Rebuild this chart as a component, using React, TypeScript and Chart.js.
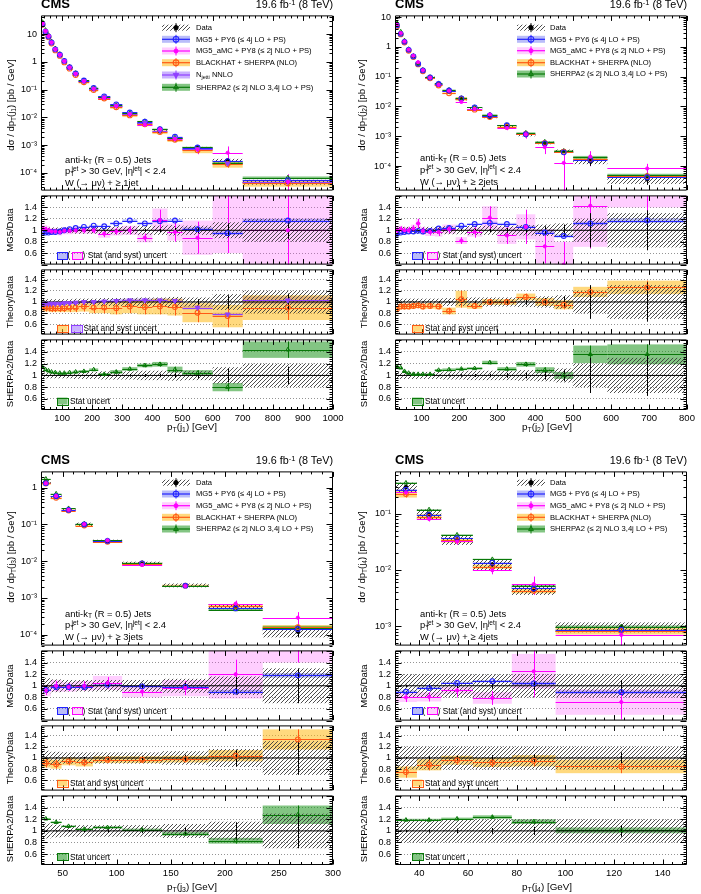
import React, { useEffect, useRef } from "react";
import { Chart, registerables } from "chart.js";
import { drawPoint } from "chart.js/helpers";
Chart.register(...registerables);

const FONT = "'Liberation Sans', Arial, Helvetica, sans-serif";

// ================= Panel 1 : leading jet pT =================
const edges1 = [30, 40, 50, 60, 70, 85, 100, 115, 135, 155, 190, 220, 260, 300, 350, 400, 450, 500, 600, 700, 1000];
const data1 = [23.6, 12.7, 8.5, 5.1, 2.9, 1.84, 1.07, 0.63, 0.37, 0.2, 0.107, 0.053, 0.026, 0.0128, 0.0062, 0.0032, 0.0017, 0.0008, 0.00028, 4.7e-5];
const dataUnc1 = [0.05, 0.05, 0.05, 0.05, 0.05, 0.05, 0.05, 0.05, 0.06, 0.06, 0.06, 0.07, 0.07, 0.07, 0.08, 0.08, 0.09, 0.08, 0.14, 0.2];
const dataStat1 = [0.002, 0.002, 0.002, 0.003, 0.003, 0.004, 0.005, 0.005, 0.006, 0.007, 0.009, 0.012, 0.015, 0.02, 0.025, 0.03, 0.04, 0.05, 0.12, 0.15];
const mg5Ratio1 = [0.96, 0.96, 0.96, 0.97, 0.97, 0.98, 1.0, 1.02, 1.04, 1.06, 1.08, 1.07, 1.12, 1.17, 1.12, 1.16, 1.17, 1.02, 0.95, 1.17];
const mg5Band1 = [0.01, 0.01, 0.01, 0.01, 0.01, 0.01, 0.01, 0.01, 0.012, 0.012, 0.015, 0.015, 0.02, 0.02, 0.02, 0.025, 0.025, 0.03, 0.03, 0.03];
const amcRatio1 = [1.02, 1.02, 1.0, 0.98, 0.98, 0.97, 0.99, 0.99, 1.0, 1.0, 1.0, 0.94, 0.98, 1.0, 0.87, 1.18, 0.97, 0.87, 1.9, 1.0];
const amcErr1 = [0.05, 0.04, 0.04, 0.04, 0.04, 0.04, 0.04, 0.04, 0.04, 0.05, 0.05, 0.06, 0.06, 0.07, 0.07, 0.18, 0.17, 0.28, 1.3, 0.9];
const amcBand1 = [0.08, 0.07, 0.07, 0.06, 0.06, 0.06, 0.06, 0.06, 0.06, 0.06, 0.06, 0.07, 0.07, 0.08, 0.08, 0.2, 0.15, 0.3, 1.3, 0.9];
const bhRatio1 = [0.92, 0.9, 0.9, 0.89, 0.89, 0.89, 0.89, 0.9, 0.9, 0.92, 0.9, 0.9, 0.89, 0.92, 0.91, 0.92, 0.91, 0.81, 0.75, 0.9];
const bhBand1 = [0.07, 0.07, 0.07, 0.07, 0.07, 0.07, 0.07, 0.08, 0.08, 0.09, 0.1, 0.1, 0.11, 0.12, 0.13, 0.14, 0.15, 0.17, 0.2, 0.22];
const njRatio1 = [0.96, 0.97, 0.97, 0.97, 0.97, 0.97, 0.98, 0.98, 0.99, 1.0, 1.0, 1.01, 1.02, 1.03, 1.03, 1.03, 1.02, 0.9, 0.78, 1.03];
const njBand1 = [0.02, 0.02, 0.02, 0.02, 0.02, 0.02, 0.02, 0.02, 0.02, 0.02, 0.025, 0.025, 0.03, 0.03, 0.03, 0.03, 0.035, 0.035, 0.03, 0.07];
const shRatio1 = [1.14, 1.1, 1.08, 1.06, 1.05, 1.04, 1.04, 1.05, 1.06, 1.07, 1.1, 1.02, 1.06, 1.11, 1.17, 1.19, 1.1, 1.04, 0.8, 1.44];
const shBand1 = [0.02, 0.015, 0.015, 0.015, 0.015, 0.015, 0.015, 0.015, 0.02, 0.02, 0.02, 0.02, 0.03, 0.03, 0.03, 0.04, 0.05, 0.05, 0.07, 0.14];
const xRange1 = [30, 1000];
const xTicks1 = [100, 200, 300, 400, 500, 600, 700, 800, 900, 1000];
const yRange1 = [2.3e-5, 47];
const yTicks1 = [1e-4, 1e-3, 1e-2, 1e-1, 1, 10];

// ================= Panel 2 : second jet pT =================
const edges2 = [30, 40, 50, 60, 72, 85, 97, 110, 135, 155, 190, 220, 260, 300, 350, 400, 450, 500, 590, 800];
const data2 = [5.6, 2.85, 1.52, 0.81, 0.49, 0.275, 0.166, 0.095, 0.055, 0.033, 0.0173, 0.0084, 0.0044, 0.0021, 0.0011, 0.0006, 0.00032, 0.000145, 3.6e-5];
const dataUnc2 = [0.07, 0.06, 0.06, 0.06, 0.06, 0.06, 0.06, 0.06, 0.06, 0.07, 0.07, 0.08, 0.08, 0.08, 0.09, 0.1, 0.12, 0.2, 0.3];
const dataStat2 = [0.005, 0.005, 0.005, 0.006, 0.007, 0.008, 0.01, 0.01, 0.012, 0.015, 0.02, 0.025, 0.03, 0.04, 0.05, 0.07, 0.1, 0.3, 0.35];
const mg5Ratio2 = [0.94, 0.96, 0.97, 0.98, 0.98, 0.99, 0.98, 0.99, 1.03, 1.04, 1.08, 1.11, 1.13, 1.11, 1.06, 0.96, 0.9, 1.12, 1.17];
const mg5Band2 = [0.01, 0.01, 0.01, 0.01, 0.01, 0.01, 0.01, 0.01, 0.012, 0.012, 0.015, 0.015, 0.02, 0.02, 0.02, 0.025, 0.025, 0.03, 0.04];
const amcRatio2 = [1.0, 1.02, 1.0, 1.0, 1.03, 1.12, 0.99, 0.97, 0.97, 1.02, 0.82, 0.97, 1.22, 0.91, 1.06, 0.72, 0.4, 1.43, 2.3];
const amcErr2 = [0.05, 0.05, 0.05, 0.06, 0.06, 0.08, 0.06, 0.06, 0.07, 0.07, 0.06, 0.1, 0.2, 0.15, 0.3, 0.3, 0.4, 0.75, 1.0];
const amcBand2 = [0.06, 0.06, 0.06, 0.06, 0.07, 0.08, 0.07, 0.07, 0.08, 0.08, 0.06, 0.08, 0.2, 0.15, 0.22, 0.3, 0.4, 0.72, 0.9];
const bhRatio2 = [0.87, 0.92, 0.92, 0.92, 0.93, 0.94, 0.92, 0.93, 0.92, 0.84, 1.05, 0.93, 1.0, 1.0, 1.09, 1.0, 0.95, 1.18, 1.26];
const bhBand2 = [0.05, 0.05, 0.05, 0.05, 0.05, 0.05, 0.05, 0.05, 0.05, 0.06, 0.15, 0.05, 0.05, 0.05, 0.06, 0.07, 0.08, 0.09, 0.12];
const shRatio2 = [1.15, 1.13, 1.07, 1.04, 1.02, 1.02, 1.02, 1.02, 1.09, 1.1, 1.11, 1.12, 1.22, 1.11, 1.19, 1.09, 1.0, 1.36, 1.36];
const shBand2 = [0.02, 0.015, 0.015, 0.015, 0.015, 0.015, 0.015, 0.015, 0.02, 0.02, 0.02, 0.02, 0.03, 0.03, 0.04, 0.05, 0.06, 0.15, 0.17];
const xRange2 = [30, 800];
const xTicks2 = [100, 200, 300, 400, 500, 600, 700, 800];
const yRange2 = [1.5e-5, 11.4];
const yTicks2 = [1e-4, 1e-3, 1e-2, 1e-1, 1, 10];

// ================= Panel 3 : third jet pT =================
const edges3 = [30, 39, 49, 62, 78, 105, 142, 185, 235, 300];
const data3 = [1.44, 0.6, 0.255, 0.102, 0.035, 0.0088, 0.0022, 0.00058, 0.00012];
const dataUnc3 = [0.13, 0.11, 0.1, 0.1, 0.1, 0.1, 0.12, 0.16, 0.3];
const dataStat3 = [0.01, 0.01, 0.015, 0.02, 0.03, 0.04, 0.06, 0.15, 0.3];
const mg5Ratio3 = [0.93, 0.98, 0.98, 0.98, 1.02, 0.99, 0.98, 0.9, 1.18];
const mg5Band3 = [0.02, 0.02, 0.02, 0.02, 0.02, 0.02, 0.03, 0.03, 0.04];
const amcRatio3 = [0.92, 1.0, 0.98, 1.0, 1.05, 0.9, 0.96, 1.2, 2.4];
const amcErr3 = [0.08, 0.08, 0.07, 0.08, 0.1, 0.08, 0.12, 0.25, 1.0];
const amcBand3 = [0.1, 0.1, 0.08, 0.08, 0.12, 0.1, 0.14, 0.42, 1.0];
const bhRatio3 = [0.91, 0.89, 0.94, 0.92, 0.97, 0.97, 0.98, 1.04, 1.33];
const bhBand3 = [0.08, 0.08, 0.07, 0.07, 0.06, 0.06, 0.06, 0.1, 0.18];
const shRatio3 = [1.21, 1.15, 1.08, 1.03, 1.06, 1.02, 0.95, 0.83, 1.28];
const shBand3 = [0.015, 0.015, 0.015, 0.015, 0.02, 0.02, 0.03, 0.05, 0.16];
const xRange3 = [30, 300];
const xTicks3 = [50, 100, 150, 200, 250, 300];
const yRange3 = [5e-5, 2.8];
const yTicks3 = [1e-4, 1e-3, 1e-2, 1e-1, 1];

// ================= Panel 4 : fourth jet pT =================
const edges4 = [30, 39, 49, 62, 78, 96, 150];
const data4 = [0.3, 0.1, 0.035, 0.0125, 0.0045, 0.00097];
const dataUnc4 = [0.2, 0.2, 0.2, 0.2, 0.2, 0.2];
const dataStat4 = [0.02, 0.03, 0.04, 0.05, 0.07, 0.1];
const mg5Ratio4 = [0.9, 0.96, 1.05, 1.08, 1.04, 0.89];
const mg5Band4 = [0.02, 0.02, 0.02, 0.02, 0.03, 0.03];
const amcRatio4 = [0.8, 0.81, 0.92, 0.79, 1.25, 0.72];
const amcErr4 = [0.08, 0.08, 0.12, 0.12, 0.45, 0.3];
const amcBand4 = [0.08, 0.08, 0.06, 0.1, 0.3, 0.22];
const bhRatio4 = [0.75, 0.88, 0.96, 0.92, 0.95, 0.85];
const bhBand4 = [0.1, 0.1, 0.08, 0.08, 0.1, 0.12];
const shRatio4 = [1.19, 1.19, 1.21, 1.24, 1.16, 1.01];
const shBand4 = [0.02, 0.02, 0.02, 0.03, 0.04, 0.05];
const xRange4 = [30, 150];
const xTicks4 = [40, 60, 80, 100, 120, 140];
const yRange4 = [4.5e-4, 0.57];
const yTicks4 = [1e-3, 1e-2, 1e-1];

// ratio panels
const ratioTicks = [0.6, 0.8, 1, 1.2, 1.4];
const ratioRanges = [[0.4, 1.61], [0.42, 1.58], [0.41, 1.615]];

const COLORS: any = {
  data: { line: "#000000", band: "rgba(0,0,0,0)" },
  mg5: { line: "#2323ff", band: "rgba(70,80,240,0.38)" },
  amc: { line: "#ff00ff", band: "rgba(255,60,255,0.25)" },
  bh: { line: "#ff5a14", band: "rgba(255,185,20,0.55)" },
  nj: { line: "#9040ff", band: "rgba(150,100,255,0.5)" },
  sh: { line: "#087808", band: "rgba(30,150,30,0.55)" },
};
const MARKERS: any = {
  data: { pointStyle: "circle", radius: 1.8, fill: "#000", stroke: "#000", bw: 1, rot: 0 },
  mg5: { pointStyle: "circle", radius: 2.4, fill: "rgba(255,255,255,0)", stroke: COLORS.mg5.line, bw: 1.1, rot: 0 },
  amc: { pointStyle: "circle", radius: 1.6, fill: COLORS.amc.line, stroke: COLORS.amc.line, bw: 1, rot: 0 },
  bh: { pointStyle: "circle", radius: 2.4, fill: "rgba(255,255,255,0)", stroke: COLORS.bh.line, bw: 1.1, rot: 0 },
  nj: { pointStyle: "triangle", radius: 2.8, fill: COLORS.nj.line, stroke: COLORS.nj.line, bw: 1, rot: 180 },
  sh: { pointStyle: "triangle", radius: 2.4, fill: "rgba(255,255,255,0)", stroke: COLORS.sh.line, bw: 1, rot: 0 },
};

const PANELS: any[] = [
  { jet: "1", edges: edges1, data: data1, unc: dataUnc1, stat: dataStat1, mg5R: mg5Ratio1, mg5B: mg5Band1, amcR: amcRatio1, amcE: amcErr1, amcB: amcBand1, bhR: bhRatio1, bhB: bhBand1, njR: njRatio1, njB: njBand1, shR: shRatio1, shB: shBand1, xRange: xRange1, xTicks: xTicks1, xMajor: 100, xMinor: 20, yRange: yRange1, yTicks: yTicks1, mult: "≥ 1jet" },
  { jet: "2", edges: edges2, data: data2, unc: dataUnc2, stat: dataStat2, mg5R: mg5Ratio2, mg5B: mg5Band2, amcR: amcRatio2, amcE: amcErr2, amcB: amcBand2, bhR: bhRatio2, bhB: bhBand2, njR: null, njB: null, shR: shRatio2, shB: shBand2, xRange: xRange2, xTicks: xTicks2, xMajor: 100, xMinor: 20, yRange: yRange2, yTicks: yTicks2, mult: "≥ 2jets" },
  { jet: "3", edges: edges3, data: data3, unc: dataUnc3, stat: dataStat3, mg5R: mg5Ratio3, mg5B: mg5Band3, amcR: amcRatio3, amcE: amcErr3, amcB: amcBand3, bhR: bhRatio3, bhB: bhBand3, njR: null, njB: null, shR: shRatio3, shB: shBand3, xRange: xRange3, xTicks: xTicks3, xMajor: 50, xMinor: 10, yRange: yRange3, yTicks: yTicks3, mult: "≥ 3jets" },
  { jet: "4", edges: edges4, data: data4, unc: dataUnc4, stat: dataStat4, mg5R: mg5Ratio4, mg5B: mg5Band4, amcR: amcRatio4, amcE: amcErr4, amcB: amcBand4, bhR: bhRatio4, bhB: bhBand4, njR: null, njB: null, shR: shRatio4, shB: shBand4, xRange: xRange4, xTicks: xTicks4, xMajor: 20, xMinor: 4, yRange: yRange4, yTicks: yTicks4, mult: "≥ 4jets" },
];

// layout of the four pads (page pixels)
const GEO: any[] = [
  { l: 41, r: 333, rows: [13, 193, 267, 337, 410], legX: [162, 190], legTextX: 196, legRows: [27.7, 39.3, 51, 62.7, 75, 87.3], annX: 65, annBase: [162.5, 174, 185.5], rLegX: 57, rLegY: [255.5, 328.3, 401], yTitleX: 11, rTitleX: 10, yTitleY: 105, xTitleX: 192, xTitleBase: 430 },
  { l: 395, r: 687, rows: [13, 193, 267, 337, 410], legX: [517, 545], legTextX: 550, legRows: [27.7, 39.3, 50.7, 62.7, 74], annX: 420, annBase: [161, 172.5, 185], rLegX: 412, rLegY: [255.5, 328.3, 401], yTitleX: 362, rTitleX: 364, yTitleY: 105, xTitleX: 547, xTitleBase: 430 },
  { l: 41, r: 333, rows: [469, 648, 723, 793, 865], legX: [162, 190], legTextX: 196, legRows: [482.7, 494, 505.7, 517.3, 529], annX: 65, annBase: [616.5, 628, 640], rLegX: 57, rLegY: [710.7, 783, 856.7], yTitleX: 11, rTitleX: 10, yTitleY: 557, xTitleX: 192, xTitleBase: 890 },
  { l: 395, r: 687, rows: [469, 648, 723, 793, 865], legX: [517, 545], legTextX: 550, legRows: [482.7, 494, 505.7, 517.3, 529], annX: 420, annBase: [616.5, 628, 640], rLegX: 412, rLegY: [710.7, 783, 856.7], yTitleX: 362, rTitleX: 364, yTitleY: 557, xTitleX: 547, xTitleBase: 890 },
];

const ML = 38, MR = 14, MT = 7, MBX = 20, MBN = 7;

function centersOf(edges: number[]) {
  return edges.slice(0, -1).map((e, i) => (e + edges[i + 1]) / 2);
}

function mainModel(edges, data, r, band, err, key) {
  return {
    edges, color: COLORS[key].line, bandColor: COLORS[key].band, line: true,
    vals: data.map((d, i) => d * r[i]),
    lo: band ? data.map((d, i) => d * (r[i] - band[i])) : null,
    hi: band ? data.map((d, i) => d * (r[i] + band[i])) : null,
    elo: err ? data.map((d, i) => d * (r[i] - err[i])) : null,
    ehi: err ? data.map((d, i) => d * (r[i] + err[i])) : null,
  };
}
function ratioModel(edges, r, band, err, key) {
  return {
    edges, color: COLORS[key].line, bandColor: COLORS[key].band, line: true, vals: r,
    lo: band ? r.map((v, i) => v - band[i]) : null,
    hi: band ? r.map((v, i) => v + band[i]) : null,
    elo: err ? r.map((v, i) => v - err[i]) : null,
    ehi: err ? r.map((v, i) => v + err[i]) : null,
  };
}
function mainData(edges, data, U, S) {
  return {
    edges, color: "#000", hatch: true, line: false, vals: data,
    lo: data.map((d, i) => d * (1 - U[i])), hi: data.map((d, i) => d * (1 + U[i])),
    elo: data.map((d, i) => d * (1 - S[i])), ehi: data.map((d, i) => d * (1 + S[i])),
  };
}
function ratioData(edges, U, S) {
  return {
    edges, color: "#000", hatch: true, line: false, vals: U.map(() => 1),
    lo: U.map((u) => 1 - u), hi: U.map((u) => 1 + u),
    elo: S.map((s) => 1 - s), ehi: S.map((s) => 1 + s),
  };
}
function scatterSet(h, mk, showPts = true) {
  return {
    type: "scatter",
    data: centersOf(h.edges).map((x, i) => ({ x, y: h.vals[i] })),
    pointStyle: mk.pointStyle, pointRadius: showPts ? mk.radius : 0, pointRotation: mk.rot,
    pointBackgroundColor: mk.fill, pointBorderColor: mk.stroke, pointBorderWidth: mk.bw,
    pointHoverRadius: 0, showLine: false, hep: h,
  };
}

const hatchCache = new WeakMap();
function getHatch(ctx) {
  let p = hatchCache.get(ctx);
  if (!p) {
    const c = document.createElement("canvas");
    c.width = 4; c.height = 4;
    const g = c.getContext("2d");
    g.strokeStyle = "#3a3a3a"; g.lineWidth = 0.9;
    g.beginPath();
    g.moveTo(0, 4); g.lineTo(4, 0);
    g.moveTo(-1, 1); g.lineTo(1, -1);
    g.moveTo(3, 5); g.lineTo(5, 3);
    g.stroke();
    p = ctx.createPattern(c, "repeat");
    hatchCache.set(ctx, p);
  }
  return p;
}

function drawBins(chart) {
  const { ctx, chartArea: a } = chart;
  const xs = chart.scales.x, ys = chart.scales.y;
  const isLog = ys.type === "logarithmic";
  const py = (v) => (isLog && v <= 0 ? a.bottom + 50 : ys.getPixelForValue(v));
  const px = (v) => xs.getPixelForValue(v);
  const hs = chart.data.datasets.map((d) => d.hep).filter(Boolean);
  ctx.save();
  ctx.beginPath();
  ctx.rect(a.left, a.top, a.right - a.left, a.bottom - a.top);
  ctx.clip();
  const boxes = (h, fill) => {
    ctx.fillStyle = fill;
    h.vals.forEach((_, i) => {
      const x0 = px(h.edges[i]), x1 = px(h.edges[i + 1]);
      const y0 = py(h.hi[i]), y1 = py(h.lo[i]);
      ctx.fillRect(x0, y0, x1 - x0, y1 - y0);
    });
  };
  hs.forEach((h) => { if (h.lo && !h.hatch) boxes(h, h.bandColor); });
  hs.forEach((h) => { if (h.hatch) boxes(h, getHatch(ctx)); });
  hs.forEach((h) => {
    ctx.strokeStyle = h.color;
    ctx.lineWidth = 1;
    ctx.beginPath();
    h.vals.forEach((v, i) => {
      const x0 = px(h.edges[i]), x1 = px(h.edges[i + 1]);
      if (h.line && !(isLog && v <= 0)) {
        const y = Math.round(py(v)) + 0.5;
        ctx.moveTo(x0, y); ctx.lineTo(x1, y);
      }
      if (h.elo) {
        const xm = Math.round(px((h.edges[i] + h.edges[i + 1]) / 2)) + 0.5;
        ctx.moveTo(xm, py(h.elo[i])); ctx.lineTo(xm, py(h.ehi[i]));
      }
    });
    ctx.stroke();
  });
  ctx.restore();
}

function drawFrame(chart, spec) {
  const { ctx, chartArea: a } = chart;
  const xs = chart.scales.x, ys = chart.scales.y;
  const L = a.left + 0.5, R = a.right - 0.5, T = a.top + 0.5, B = a.bottom - 0.5;
  ctx.save();
  ctx.strokeStyle = "#000";
  ctx.lineWidth = 1;
  ctx.beginPath();
  ctx.rect(L, T, R - L, B - T);
  const m = spec.xMinor, M = spec.xMajor;
  for (let k = Math.ceil(xs.min / m - 1e-9); k * m <= xs.max + 1e-9; k++) {
    const v = k * m;
    const major = Math.abs(v / M - Math.round(v / M)) < 1e-6;
    const len = major ? 5 : 2.5;
    const p = Math.round(xs.getPixelForValue(v)) + 0.5;
    ctx.moveTo(p, B); ctx.lineTo(p, B - len);
    ctx.moveTo(p, T); ctx.lineTo(p, T + len);
  }
  const tickY = (v, len) => {
    const p = Math.round(ys.getPixelForValue(v)) + 0.5;
    ctx.moveTo(L, p); ctx.lineTo(L + len, p);
    ctx.moveTo(R, p); ctx.lineTo(R - len, p);
  };
  if (spec.log) {
    const e0 = Math.floor(Math.log10(ys.min)), e1 = Math.ceil(Math.log10(ys.max));
    for (let e = e0; e <= e1; e++) {
      for (let k = 1; k <= 9; k++) {
        const v = k * Math.pow(10, e);
        if (v >= ys.min && v <= ys.max) tickY(v, k === 1 ? 6 : 3);
      }
    }
  } else {
    for (let k = Math.ceil(ys.min / 0.04 - 1e-9); k * 0.04 <= ys.max + 1e-9; k++) {
      const v = k * 0.04;
      const major = Math.abs(v / 0.2 - Math.round(v / 0.2)) < 1e-6;
      tickY(v, major ? 6 : 3);
    }
  }
  ctx.stroke();
  ctx.restore();
}

function drawMarker(ctx, mk, x, y, grow = 0) {
  ctx.save();
  ctx.fillStyle = mk.fill;
  ctx.strokeStyle = mk.stroke;
  ctx.lineWidth = mk.bw;
  drawPoint(ctx, { pointStyle: mk.pointStyle, radius: mk.radius + grow, rotation: mk.rot, borderWidth: mk.bw }, x, y);
  ctx.restore();
}

function drawLegends(chart, spec) {
  const { ctx } = chart;
  const ox = spec.l - ML, oy = spec.t - MT;
  ctx.save();
  (spec.legend || []).forEach((it) => {
    const x0 = it.x0 - ox, x1 = it.x1 - ox, y = it.y - oy, xc = (x0 + x1) / 2;
    const col = COLORS[it.key];
    if (it.key === "data") {
      ctx.fillStyle = getHatch(ctx);
      ctx.fillRect(x0, y - 3, x1 - x0, 6);
    } else {
      ctx.fillStyle = col.band;
      ctx.fillRect(x0, y - 3.5, x1 - x0, 7);
      ctx.strokeStyle = col.line;
      ctx.lineWidth = 1.2;
      ctx.beginPath(); ctx.moveTo(x0, y); ctx.lineTo(x1, y); ctx.stroke();
    }
    ctx.strokeStyle = col.line;
    ctx.lineWidth = 1;
    ctx.beginPath(); ctx.moveTo(xc, y - 4.5); ctx.lineTo(xc, y + 4.5); ctx.stroke();
    drawMarker(ctx, MARKERS[it.key], xc, y, 0.4);
  });
  (spec.boxes || []).forEach((b) => {
    const col = COLORS[b.key];
    const x0 = b.x0 - ox, x1 = b.x1 - ox, y = b.y - oy;
    ctx.fillStyle = col.band;
    ctx.fillRect(x0, y - 3.5, x1 - x0, 7);
    ctx.strokeStyle = col.line;
    ctx.lineWidth = 1;
    ctx.strokeRect(Math.round(x0) + 0.5, Math.round(y - 3.5) + 0.5, Math.round(x1 - x0), 7);
  });
  ctx.restore();
}

function makePlugin(spec) {
  return {
    id: "hepDraw",
    beforeDatasetsDraw(chart) { drawBins(chart); },
    afterDraw(chart) { drawFrame(chart, spec); drawLegends(chart, spec); },
  };
}

const SUPS: any = { "-": "⁻", "0": "⁰", "1": "¹", "2": "²", "3": "³", "4": "⁴", "5": "⁵", "6": "⁶", "7": "⁷", "8": "⁸", "9": "⁹" };
function logLabel(v) {
  const e = Math.round(Math.log10(v));
  if (e === 0) return "1";
  if (e === 1) return "10";
  return "10" + String(e).split("").map((c) => SUPS[c]).join("");
}
function linLabel(v) {
  return String(Math.round(v * 10) / 10);
}

function buildConfig(spec) {
  const yScale: any = {
    type: spec.log ? "logarithmic" : "linear",
    min: spec.yRange[0], max: spec.yRange[1],
    afterFit: (s) => { s.width = ML; },
    afterBuildTicks: (s) => { s.ticks = spec.yTicks.map((v) => ({ value: v })); },
    grid: spec.log ? { display: false, drawTicks: false } : { display: true, drawTicks: false, color: "#666", lineWidth: 0.7 },
    border: { display: false, dash: [1, 2] },
    ticks: { font: { family: FONT, size: 9 }, color: "#000", padding: 4, autoSkip: false, callback: spec.log ? logLabel : linLabel },
  };
  const xScale: any = {
    type: "linear", min: spec.xRange[0], max: spec.xRange[1], display: spec.showX,
    afterBuildTicks: (s) => { s.ticks = spec.xTicks.map((v) => ({ value: v })); },
    grid: { display: false, drawTicks: false },
    border: { display: false },
    ticks: { font: { family: FONT, size: 9.5 }, color: "#000", padding: 3, autoSkip: false, maxRotation: 0, minRotation: 0, callback: (v) => String(v) },
  };
  if (spec.showX) xScale.afterFit = (s) => { s.height = MBX; };
  return {
    type: "scatter",
    data: { datasets: spec.datasets },
    options: {
      responsive: false, maintainAspectRatio: false, animation: false, devicePixelRatio: 1, events: [],
      layout: { autoPadding: false, padding: { left: 0, right: MR, top: MT, bottom: spec.showX ? 0 : MBN } },
      plugins: { legend: { display: false }, tooltip: { enabled: false }, title: { display: false } },
      scales: { x: xScale, y: yScale },
    },
    plugins: [makePlugin(spec)],
  };
}

function buildQuadrant(p, g) {
  const [t0, t1, t2, t3, t4] = g.rows;
  const base = { l: g.l, r: g.r, xRange: p.xRange, xTicks: p.xTicks, xMajor: p.xMajor, xMinor: p.xMinor };
  const unity = () => ({ type: "line", data: [{ x: p.xRange[0], y: 1 }, { x: p.xRange[1], y: 1 }], borderColor: "#000", borderWidth: 1, pointRadius: 0 });
  const hasNj = !!p.njR;
  const mainSets = [
    scatterSet(mainModel(p.edges, p.data, p.amcR, null, p.amcE, "amc"), MARKERS.amc),
    ...(hasNj ? [scatterSet(mainModel(p.edges, p.data, p.njR, p.njB, p.njB, "nj"), MARKERS.nj)] : []),
    scatterSet(mainModel(p.edges, p.data, p.mg5R, p.mg5B, null, "mg5"), MARKERS.mg5),
    scatterSet(mainModel(p.edges, p.data, p.bhR, p.bhB, p.bhB, "bh"), MARKERS.bh),
    scatterSet(mainModel(p.edges, p.data, p.shR, p.shB, p.shB, "sh"), MARKERS.sh),
    scatterSet(mainData(p.edges, p.data, p.unc, p.stat), MARKERS.data),
  ];
  const legKeys = hasNj ? ["data", "mg5", "amc", "bh", "nj", "sh"] : ["data", "mg5", "amc", "bh", "sh"];
  const legend = legKeys.map((key, i) => ({ key, x0: g.legX[0], x1: g.legX[1], y: g.legRows[i] }));
  const r1Sets = [
    scatterSet(ratioModel(p.edges, p.amcR, p.amcB, p.amcE, "amc"), MARKERS.amc),
    scatterSet(ratioModel(p.edges, p.mg5R, p.mg5B, null, "mg5"), MARKERS.mg5),
    scatterSet(ratioData(p.edges, p.unc, p.stat), MARKERS.data, false),
    unity(),
  ];
  const r2Sets = [
    ...(hasNj ? [scatterSet(ratioModel(p.edges, p.njR, p.njB, p.njB, "nj"), MARKERS.nj)] : []),
    scatterSet(ratioModel(p.edges, p.bhR, p.bhB, p.bhB, "bh"), MARKERS.bh),
    scatterSet(ratioData(p.edges, p.unc, p.stat), MARKERS.data, false),
    unity(),
  ];
  const r3Sets = [
    scatterSet(ratioModel(p.edges, p.shR, p.shB, p.shB, "sh"), MARKERS.sh),
    scatterSet(ratioData(p.edges, p.unc, p.stat), MARKERS.data, false),
    unity(),
  ];
  const X = g.rLegX;
  return [
    { ...base, t: t0, b: t1, log: true, yRange: p.yRange, yTicks: p.yTicks, showX: false, datasets: mainSets, legend },
    { ...base, t: t1, b: t2, log: false, yRange: ratioRanges[0], yTicks: ratioTicks, showX: false, datasets: r1Sets,
      boxes: [{ key: "mg5", x0: X, x1: X + 10, y: g.rLegY[0] }, { key: "amc", x0: X + 15, x1: X + 25, y: g.rLegY[0] }] },
    { ...base, t: t2, b: t3, log: false, yRange: ratioRanges[1], yTicks: ratioTicks, showX: false, datasets: r2Sets,
      boxes: [{ key: "bh", x0: X, x1: X + 10.5, y: g.rLegY[1] }, ...(hasNj ? [{ key: "nj", x0: X + 14, x1: X + 24.5, y: g.rLegY[1] }] : [])] },
    { ...base, t: t3, b: t4, log: false, yRange: ratioRanges[2], yTicks: ratioTicks, showX: true, datasets: r3Sets,
      boxes: [{ key: "sh", x0: X, x1: X + 10.5, y: g.rLegY[2] }] },
  ];
}

const QUADS = PANELS.map((p, i) => buildQuadrant(p, GEO[i]));

function ChartCanvas({ spec }) {
  const ref = useRef(null);
  useEffect(() => {
    const chart = new Chart(ref.current, buildConfig(spec) as any);
    return () => chart.destroy();
  }, [spec]);
  const mb = spec.showX ? MBX : MBN;
  const cx = spec.l - ML, cy = spec.t - MT;
  const cw = spec.r - spec.l + ML + MR, ch = spec.b - spec.t + MT + mb;
  return <canvas ref={ref} width={cw} height={ch} style={{ position: "absolute", left: cx, top: cy, width: cw, height: ch }} />;
}

function Txt({ x, y, fs, align = "left", bold = false, children }: any) {
  const style: any = { position: "absolute", top: y - 0.85 * fs, fontSize: fs, lineHeight: 1, fontFamily: FONT, whiteSpace: "nowrap", fontWeight: bold ? "bold" : "normal", color: "#000" };
  if (align === "left") style.left = x;
  else if (align === "right") style.right = 701 - x;
  else { style.left = x; style.transform = "translateX(-50%)"; }
  return <div style={style}>{children}</div>;
}
function VTxt({ x, y, fs, children }: any) {
  return <div style={{ position: "absolute", left: x, top: y, fontSize: fs, lineHeight: 1, fontFamily: FONT, whiteSpace: "nowrap", color: "#000", transform: "translate(-50%,-50%) rotate(-90deg)" }}>{children}</div>;
}
const Sub = ({ children }: any) => <span style={{ fontSize: "0.7em", position: "relative", top: "0.3em" }}>{children}</span>;
const Sup = ({ children, ml }: any) => <span style={{ fontSize: "0.7em", position: "relative", top: "-0.5em", marginLeft: ml || 0 }}>{children}</span>;

const LEG_TEXT: any = {
  data: "Data",
  mg5: "MG5 + PY6 (≤ 4j LO + PS)",
  amc: "MG5_aMC + PY8 (≤ 2j NLO + PS)",
  bh: "BLACKHAT + SHERPA (NLO)",
  nj: <>N<Sub>jetti</Sub> NNLO</>,
  sh: "SHERPA2 (≤ 2j NLO 3,4j LO + PS)",
};

function QuadText({ p, g }: any) {
  const [t0, t1, t2, t3, t4] = g.rows;
  const hasNj = !!p.njR;
  const legKeys = hasNj ? ["data", "mg5", "amc", "bh", "nj", "sh"] : ["data", "mg5", "amc", "bh", "sh"];
  const X = g.rLegX;
  const j = <Sub>{p.jet}</Sub>;
  return (
    <>
      <Txt x={g.l} y={t0 - 4.5} fs={13} bold>CMS</Txt>
      <Txt x={g.r} y={t0 - 4.5} fs={10.8} align="right">19.6 fb<Sup>-1</Sup> (8 TeV)</Txt>
      {legKeys.map((k, i) => (
        <Txt key={k} x={g.legTextX} y={g.legRows[i] + 2.7} fs={7.6}>{LEG_TEXT[k]}</Txt>
      ))}
      <Txt x={g.annX} y={g.annBase[0]} fs={9.4}>anti-k<Sub>T</Sub> (R = 0.5) Jets</Txt>
      <Txt x={g.annX} y={g.annBase[1]} fs={9.4}>p<Sub>T</Sub><Sup ml="-0.43em">jet</Sup> &gt; 30 GeV, |η<Sup>jet</Sup>| &lt; 2.4</Txt>
      <Txt x={g.annX} y={g.annBase[2]} fs={9.4}>W (→ μν) + {p.mult}</Txt>
      <VTxt x={g.yTitleX} y={g.yTitleY} fs={9.5}>dσ / dp<Sub>T</Sub>(j{j})  [pb / GeV]</VTxt>
      <VTxt x={g.rTitleX} y={(t1 + t2) / 2} fs={9.5}>MG5/Data</VTxt>
      <VTxt x={g.rTitleX} y={(t2 + t3) / 2} fs={9.5}>Theory/Data</VTxt>
      <VTxt x={g.rTitleX} y={(t3 + t4) / 2} fs={9.5}>SHERPA2/Data</VTxt>
      <Txt x={X + 10.6} y={g.rLegY[0] + 2.9} fs={8.3}>(</Txt>
      <Txt x={X + 25.6} y={g.rLegY[0] + 2.9} fs={8.3}>) Stat (and syst) uncert</Txt>
      <Txt x={hasNj ? X + 26.5 : X + 13} y={g.rLegY[1] + 2.9} fs={8.3}>Stat and syst uncert</Txt>
      <Txt x={X + 13} y={g.rLegY[2] + 2.9} fs={8.3}>Stat uncert</Txt>
      <Txt x={g.xTitleX} y={g.xTitleBase} fs={9.8} align="center">p<Sub>T</Sub>(j{j}) [GeV]</Txt>
    </>
  );
}

export default function App() {
  return (
    <div style={{ position: "absolute", left: 0, top: 0, width: 701, height: 894, background: "#fff", overflow: "hidden" }}>
      {QUADS.map((specs, qi) => specs.map((s, si) => <ChartCanvas key={qi + "-" + si} spec={s} />))}
      {PANELS.map((p, qi) => <QuadText key={"t" + qi} p={p} g={GEO[qi]} />)}
    </div>
  );
}
